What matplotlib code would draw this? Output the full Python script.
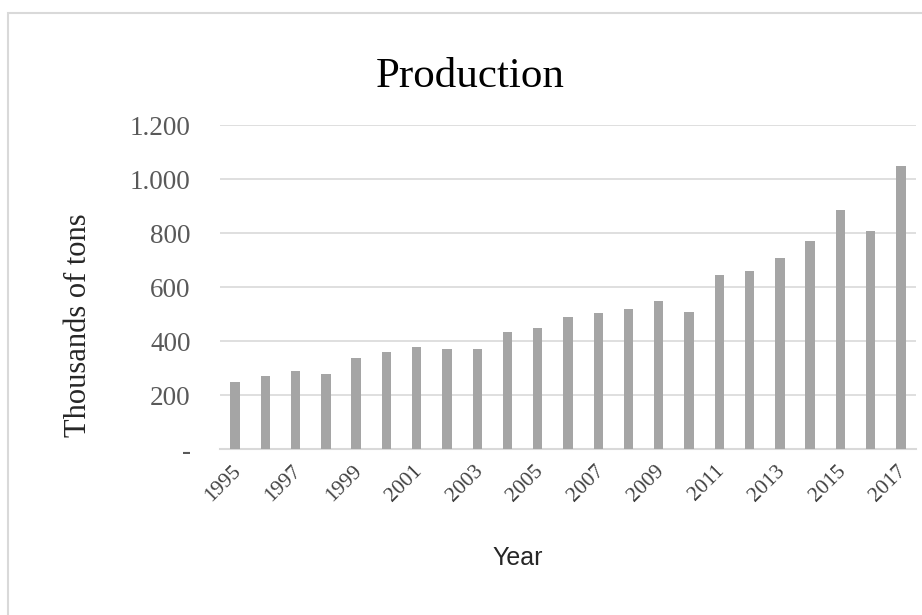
import matplotlib
matplotlib.use("Agg")
import matplotlib.pyplot as plt
from matplotlib.patches import Rectangle
from matplotlib.ticker import FuncFormatter
from matplotlib.transforms import ScaledTranslation

years = list(range(1995, 2018))
production = [250, 270, 290, 280, 340, 360, 380, 370, 370, 435, 450, 490,
              505, 520, 550, 510, 645, 660, 710, 770, 885, 810, 1050]
y_ticks = [0, 200, 400, 600, 800, 1000, 1200]

BAR = "#a5a5a5"
GRID = "#d9d9d9"
TICK_TXT = "#595959"
SERIF = ["Liberation Serif", "DejaVu Serif"]
SANS = ["Liberation Sans", "DejaVu Sans"]

fig = plt.figure(figsize=(9.22, 6.15), dpi=100)
fig.patch.set_facecolor("white")

# chart frame
fig.add_artist(Rectangle((8 / 922, -0.05), 1.2, 1 - 13 / 615 + 0.05,
                         transform=fig.transFigure, fill=False,
                         edgecolor="#d9d9d9", linewidth=1.5))

ax = fig.add_axes([220 / 922, 1 - 449.3 / 615, 696 / 922, 324 / 615])
x = list(range(len(years)))
ax.bar(x, production, width=0.31, color=BAR, zorder=3)

ax.set_xlim(-0.5, len(years) - 0.5)
ax.set_ylim(0, 1200)
ax.set_yticks(y_ticks)

def fmt(v, pos):
    if v == 0:
        return "-"
    return f"{int(v):,}".replace(",", ".")

ax.yaxis.set_major_formatter(FuncFormatter(fmt))
ax.grid(axis="y", color=GRID, linewidth=1.2, zorder=0)
ax.tick_params(axis="y", length=0, pad=21, labelsize=19.5, labelcolor=TICK_TXT)
for t in ax.get_yticklabels():
    t.set_fontfamily(SERIF)

ax.set_xticks(x[::2])
ax.set_xticklabels([str(y) for y in years[::2]], rotation=45, ha="right",
                   rotation_mode="anchor", fontsize=15.5, family=SERIF,
                   color="#404040")
ax.tick_params(axis="x", length=0, pad=9)
shift = ScaledTranslation(-4 / 100, 0, fig.dpi_scale_trans)
for t in ax.get_xticklabels():
    t.set_transform(t.get_transform() + shift)

for s in ["top", "right", "left"]:
    ax.spines[s].set_visible(False)
ax.spines["bottom"].set_color(GRID)
ax.spines["bottom"].set_linewidth(1.5)

fig.text(470 / 922, 1 - 77 / 615, "Production", ha="center", va="center",
         fontsize=31, family=SERIF, color="black")
fig.text(79 / 922, 1 - 325 / 615, "Thousands of tons", ha="center",
         va="center", rotation=90, fontsize=22, family=SERIF, color="#262626")
fig.text(518 / 922, 1 - 558 / 615, "Year", ha="center", va="center",
         fontsize=18, family=SANS, color="#262626")

fig.savefig("out.png", dpi=100, facecolor="white")
